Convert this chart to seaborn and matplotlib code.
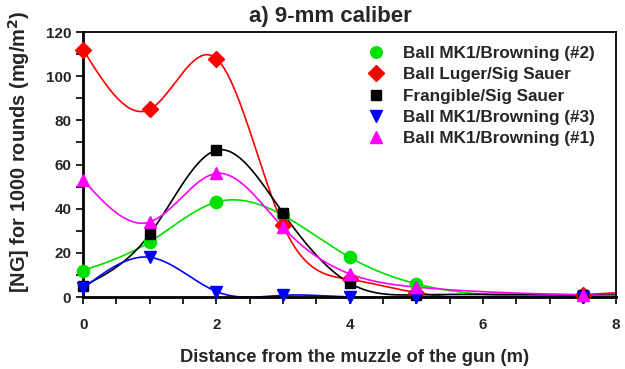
import numpy as np
import pandas as pd
import matplotlib
matplotlib.use("Agg")
import matplotlib.pyplot as plt
import seaborn as sns

distance = [0, 1, 2, 3, 4, 5, 7.5]

series_names = [
    "Ball MK1/Browning (#2)",
    "Ball Luger/Sig Sauer",
    "Frangible/Sig Sauer",
    "Ball MK1/Browning (#3)",
    "Ball MK1/Browning (#1)",
]
mk1_2 = [12, 25, 43, 37, 18, 6, 1]
luger = [112, 85, 108, 32.5, 8, 2, 1]
frangible = [5, 28.5, 66.5, 38, 6.3, 1, 1]
mk1_3 = [4, 18, 2.5, 0.8, 0, 0, 0]
mk1_1 = [53, 34, 56, 31.5, 10.5, 4.5, 1]

colors = ["#00e000", "#ff0000", "#000000", "#0000ff", "#ff00ff"]
markers = ["o", "D", "s", "v", "^"]
msizes = [8.8, 8.5, 7.5, 8.8, 8.8]


def natural_spline(x, y, xs):
    x = np.asarray(x, float)
    y = np.asarray(y, float)
    n = len(x)
    h = np.diff(x)
    A = np.zeros((n, n))
    b = np.zeros(n)
    A[0, 0] = A[-1, -1] = 1
    for i in range(1, n - 1):
        A[i, i - 1] = h[i - 1]
        A[i, i] = 2 * (h[i - 1] + h[i])
        A[i, i + 1] = h[i]
        b[i] = 6 * ((y[i + 1] - y[i]) / h[i] - (y[i] - y[i - 1]) / h[i - 1])
    M = np.linalg.solve(A, b)
    idx = np.clip(np.searchsorted(x, xs) - 1, 0, n - 2)
    x0, x1 = x[idx], x[idx + 1]
    hh = x1 - x0
    t0 = x1 - xs
    t1 = xs - x0
    return (M[idx] * t0 ** 3 / (6 * hh) + M[idx + 1] * t1 ** 3 / (6 * hh)
            + (y[idx] / hh - M[idx] * hh / 6) * t0
            + (y[idx + 1] / hh - M[idx + 1] * hh / 6) * t1)


sns.set_style("white")
plt.rcParams["font.family"] = ["Liberation Sans", "DejaVu Sans"]
plt.rcParams["font.weight"] = "bold"
plt.rcParams["mathtext.default"] = "regular"

fig, ax = plt.subplots(figsize=(6.25, 3.69), dpi=100)
fig.subplots_adjust(left=0.133, right=0.986, top=0.913, bottom=0.195)

all_values = [mk1_2, luger, frangible, mk1_3, mk1_1]
xs = np.linspace(0, 8, 400)
for name, vals, c, m, ms in zip(series_names, all_values, colors, markers, msizes):
    curve = natural_spline(distance, vals, xs)
    curve_df = pd.DataFrame({"x": xs, "y": curve})
    sns.lineplot(data=curve_df, x="x", y="y", color=c, linewidth=1.2, ax=ax,
                 legend=False, zorder=2)
    pts = pd.DataFrame({"x": distance, "y": vals})
    ax.plot(pts["x"], pts["y"], linestyle="none", marker=m, color=c,
            markersize=ms, markeredgecolor=c, zorder=3, label=name, clip_on=False)

ax.set_xlim(0, 8)
ax.set_ylim(0, 120)
ax.set_xticks([0, 2, 4, 6, 8])
ax.set_xticks(np.arange(0, 8.01, 0.5), minor=True)
ax.set_yticks(np.arange(0, 121, 20))
ax.set_yticks(np.arange(0, 121, 10), minor=True)
ax.tick_params(axis="both", which="both", direction="out", length=5, width=1.2,
               labelsize=11, color="black", bottom=True, left=True)
ax.tick_params(axis="x", pad=10)
for lab in ax.get_xticklabels() + ax.get_yticklabels():
    lab.set_fontweight("bold")

for side in ["left", "bottom"]:
    ax.spines[side].set_linewidth(2)
for side in ["top", "right"]:
    ax.spines[side].set_linewidth(1.3)
for s in ax.spines.values():
    s.set_color("black")

ax.set_xlabel("Distance from the muzzle of the gun (m)", fontsize=13.2,
              fontweight="bold")
ax.set_ylabel("[NG] for 1000 rounds (mg/m$^{\\mathbf{2}}$)", fontsize=14.4,
              fontweight="bold")
ax.xaxis.set_label_coords(0.51, -0.195)
ax.yaxis.set_label_coords(-0.096, 0.55)
ax.set_title("a) 9-mm caliber", fontsize=16, fontweight="bold", pad=7, x=0.463)

leg = ax.legend(loc="upper right", frameon=False, fontsize=12.3,
                handletextpad=0.6, labelspacing=0.36, borderaxespad=0.2,
                bbox_to_anchor=(0.98, 0.985), markerscale=0.95)
for t in leg.get_texts():
    t.set_fontweight("bold")

fig.savefig("out.png", dpi=100)
